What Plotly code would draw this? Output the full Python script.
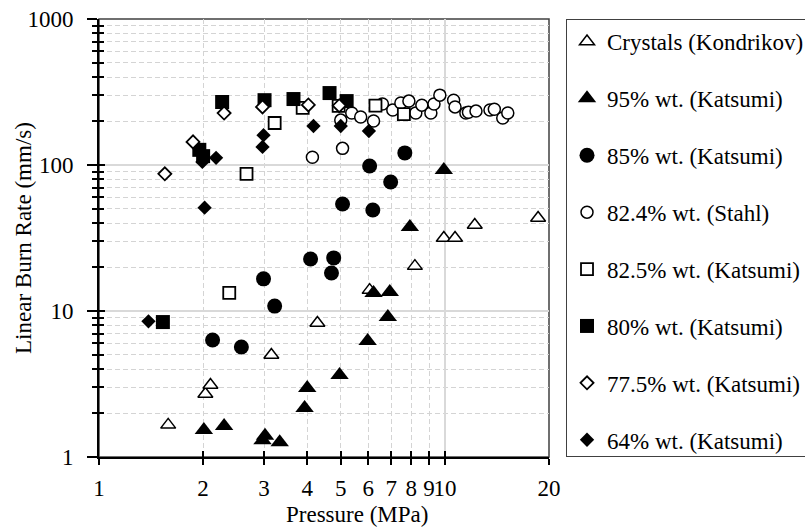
import plotly.graph_objects as go

# Burn rate data: pressure (MPa) and linear burn rate (mm/s) per series
crystals_p = [1.585, 2.03, 2.10, 3.15, 4.28, 6.06, 8.19, 9.93, 10.7, 12.2, 18.6]
crystals_r = [1.66, 2.70, 3.11, 5.0, 8.28, 13.9, 20.3, 31.6, 31.6, 38.8, 43.4]

wt95_p = [2.01, 2.30, 2.97, 3.02, 3.33, 3.93, 4.00, 4.96, 5.98, 6.22, 6.93, 6.84, 7.92, 9.93]
wt95_r = [1.53, 1.63, 1.30, 1.40, 1.26, 2.17, 2.97, 3.64, 6.23, 13.3, 13.5, 9.1, 37.6, 92.4]

wt85_p = [2.13, 2.58, 2.99, 3.22, 4.09, 4.70, 4.77, 5.06, 6.19, 6.06, 6.97, 7.66]
wt85_r = [6.33, 5.67, 16.6, 10.8, 22.7, 18.2, 23.1, 54.0, 49.2, 98.4, 76.5, 121.0]

stahl_p = [4.14, 5.06, 5.00, 5.38, 5.71, 6.22, 6.60, 7.07, 7.46, 7.87, 8.24, 8.58,
           9.11, 9.30, 9.67, 10.6, 10.7, 11.5, 11.7, 12.3, 13.5, 13.9, 14.7, 15.2]
stahl_r = [113, 130, 203, 227, 213, 200, 262, 238, 266, 274, 227, 257,
           227, 262, 301, 278, 250, 227, 230, 234, 238, 241, 210, 227]

wt825_p = [2.38, 2.67, 3.22, 3.88, 4.93, 6.30, 7.61]
wt825_r = [13.3, 87.0, 194, 246, 254, 255, 223]

wt80_p = [1.53, 1.95, 2.00, 2.27, 3.01, 3.65, 4.64, 5.20]
wt80_r = [8.4, 127, 115, 270, 278, 283, 311, 274]

wt775_p = [1.55, 1.87, 2.30, 2.97, 4.03, 4.95]
wt775_r = [87.0, 144, 227, 250, 258, 255]

wt64_p = [1.39, 2.02, 1.99, 2.18, 2.99, 2.97, 4.17, 5.00, 6.03]
wt64_r = [8.5, 51.0, 105, 112, 160, 133, 185, 185, 171]

x_ticks = [1, 2, 3, 4, 5, 6, 7, 8, 9, 10, 20]
x_minor = [2, 3, 4, 5, 6, 7, 8, 9]
y_ticks = [1, 10, 100, 1000]
y_minor = [m * d for d in (1, 10, 100) for m in range(2, 10)]

FONT = "Liberation Serif, Times New Roman, Times, serif"
FS = 23
BLACK = "#000000"

series = [
    ("Crystals (Kondrikov)", crystals_p, crystals_r, "triangle-up", 13, "white", 1.5),
    ("95% wt. (Katsumi)", wt95_p, wt95_r, "triangle-up", 16, BLACK, 0),
    ("85% wt. (Katsumi)", wt85_p, wt85_r, "circle", 15, BLACK, 0),
    ("82.4% wt. (Stahl)", stahl_p, stahl_r, "circle", 12, "white", 1.5),
    ("82.5% wt. (Katsumi)", wt825_p, wt825_r, "square", 12, "white", 1.8),
    ("80% wt. (Katsumi)", wt80_p, wt80_r, "square", 14, BLACK, 0),
    ("77.5% wt. (Katsumi)", wt775_p, wt775_r, "diamond", 10, "white", 1.8),
    ("64% wt. (Katsumi)", wt64_p, wt64_r, "diamond", 11, BLACK, 0),
]

fig = go.Figure()
for i, (name, px, py, sym, size, fill, lw) in enumerate(series):
    fig.add_trace(go.Scatter(
        x=px, y=py, mode="markers", name=name, legendgroup=f"g{i}",
        marker=dict(symbol=sym, size=size, color=fill,
                    line=dict(color=BLACK, width=lw)),
        cliponaxis=False,
    ))

# empty overlay subplot carrying the inner tick marks and the x grid
fig.add_trace(go.Scatter(x=[], y=[], xaxis="x2", yaxis="y2",
                         showlegend=False, hoverinfo="skip"))

log_x = [0, 1.30103]
log_y = [0, 3]
grid_major = "#d9d9d9"
grid_minor = "#d4d4d4"

fig.update_layout(
    width=805, height=527,
    margin=dict(l=99, r=256, t=19, b=70, autoexpand=False),
    paper_bgcolor="white", plot_bgcolor="white",
    font=dict(family=FONT, size=FS, color=BLACK),
    showlegend=True,
    legend=dict(
        x=1.0378, y=1.0, xanchor="left", yanchor="top",
        bordercolor="#404040", borderwidth=1, bgcolor="white",
        font=dict(family=FONT, size=FS, color=BLACK),
        tracegroupgap=24, itemsizing="trace",
    ),
    xaxis=dict(
        type="log", range=log_x, tickmode="array", tickvals=x_ticks,
        ticktext=[str(v) for v in x_ticks], ticks="outside", ticklen=6,
        tickwidth=1.5, tickcolor=BLACK, showgrid=False, zeroline=False,
        showline=True, linecolor=BLACK, linewidth=2, tickangle=0,
        tickfont=dict(family=FONT, size=FS), ticklabelstandoff=3,
    ),
    yaxis=dict(
        type="log", range=log_y, tickmode="array", tickvals=y_ticks,
        ticktext=[str(v) for v in y_ticks], ticks="outside", ticklen=10,
        tickwidth=1.5, tickcolor=BLACK, showgrid=True, gridcolor=grid_major,
        gridwidth=2, zeroline=False, showline=True, linecolor=BLACK,
        linewidth=2, tickfont=dict(family=FONT, size=FS), ticklabelstandoff=9,
        minor=dict(tickmode="array", tickvals=y_minor, ticks="outside",
                   ticklen=5, tickwidth=1.5, tickcolor=BLACK, showgrid=True,
                   gridcolor=grid_minor, gridwidth=1.2, griddash="5px,3px"),
    ),
    xaxis2=dict(
        type="log", range=log_x, overlaying="x", anchor="y2",
        tickmode="array", tickvals=[1, 10, 20], ticks="inside", ticklen=6,
        tickwidth=1.5, tickcolor=BLACK, showticklabels=False,
        showgrid=True, gridcolor=grid_major, gridwidth=2, zeroline=False,
        showline=False,
        minor=dict(tickmode="array", tickvals=x_minor, ticks="inside",
                   ticklen=6, tickwidth=1.5, tickcolor=BLACK, showgrid=True,
                   gridcolor=grid_minor, gridwidth=1.2, griddash="5px,3px"),
    ),
    yaxis2=dict(
        type="log", range=log_y, overlaying="y", anchor="x2",
        tickmode="array", tickvals=y_ticks, ticks="inside", ticklen=6,
        tickwidth=1.5, tickcolor=BLACK, showticklabels=False,
        showgrid=False, zeroline=False, showline=False,
        minor=dict(tickmode="array", tickvals=y_minor, ticks="inside",
                   ticklen=5, tickwidth=1.5, tickcolor=BLACK, showgrid=False),
    ),
    shapes=[dict(type="rect", xref="paper", yref="paper", x0=0, x1=1, y0=0, y1=1,
                 line=dict(color="#404040", width=1.5), layer="below")],
    annotations=[
        dict(text="Pressure (MPa)", xref="paper", yref="paper", x=0.573, y=-0.132,
             xanchor="center", yanchor="middle", showarrow=False,
             font=dict(family=FONT, size=FS)),
        dict(text="Linear Burn Rate (mm/s)", xref="paper", yref="paper",
             x=-0.169, y=0.5, xanchor="center", yanchor="middle",
             textangle=-90, showarrow=False, font=dict(family=FONT, size=FS)),
    ],
)

fig.write_html("out.html")
